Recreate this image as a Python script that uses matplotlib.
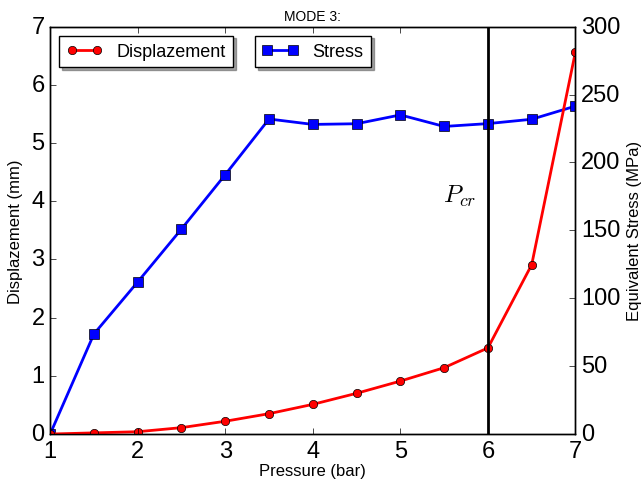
import matplotlib
matplotlib.use("Agg")
import matplotlib.pyplot as plt

pressure = [1, 1.5, 2, 2.5, 3, 3.5, 4, 4.5, 5, 5.5, 6, 6.5, 7]
displacement = [0.0, 0.02, 0.04, 0.11, 0.22, 0.35, 0.51, 0.70, 0.91, 1.14, 1.48, 2.91, 6.57]
stress = [0, 73.7, 112, 151, 191, 232, 228, 228.5, 235, 226.5, 228.6, 231.8, 241.5]
p_cr = 6


def main():
    plt.style.use("classic")
    plt.rcParams["font.family"] = ["Liberation Sans", "DejaVu Sans"]
    plt.rcParams["mathtext.fontset"] = "cm"

    fig = plt.figure(figsize=(6.43, 4.85), dpi=100, facecolor="white")
    ax1 = fig.add_axes([0.078, 0.103, 0.817, 0.840])
    ax2 = ax1.twinx()

    l1, = ax1.plot(pressure, displacement, "-o", color="red", lw=2,
                   markersize=6, markeredgecolor="black", label="Displazement")
    l2, = ax2.plot(pressure, stress, "-s", color="blue", lw=2,
                   markersize=7, markeredgecolor="black", label="Stress")
    ax1.axvline(p_cr, color="black", lw=2)
    ax1.text(5.68, 4.1, r"$P_{cr}$", fontsize=18, ha="center", va="center")

    ax1.set_xlim(1, 7)
    ax1.set_ylim(0, 7)
    ax2.set_ylim(0, 300)
    ax1.tick_params(labelsize=17)
    ax2.tick_params(labelsize=17)
    ax1.set_xlabel("Pressure (bar)", fontsize=12, labelpad=1)
    ax1.set_ylabel("Displazement (mm)", fontsize=12, labelpad=6)
    ax2.set_ylabel("Equivalent Stress (MPa)", fontsize=12)
    ax1.set_title("MODE 3:", fontsize=10)

    leg1 = ax1.legend(handles=[l1], loc="upper left", fontsize=13,
                      shadow=True, fancybox=False, numpoints=2)
    ax1.add_artist(leg1)
    ax1.legend(handles=[l2], loc="upper center", fontsize=13,
               shadow=True, fancybox=False, numpoints=2)
    ax1.set_zorder(ax2.get_zorder() + 1)
    ax1.patch.set_visible(False)

    fig.savefig("out.png", dpi=100, facecolor="white")


if __name__ == "__main__":
    main()
